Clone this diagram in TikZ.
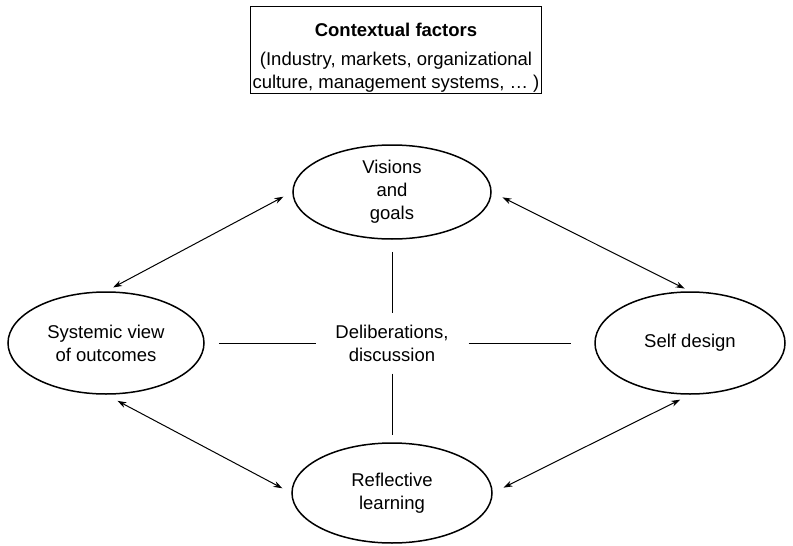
\documentclass[tikz,border=0pt]{standalone}
\usepackage{fontspec}
\setmainfont{Liberation Sans}
\usetikzlibrary{arrows.meta,positioning,shapes.geometric}

\begin{document}
\begin{tikzpicture}[x=1pt,y=-1pt,on grid,auto,line width=1pt,
    >={Stealth[length=9pt,width=6pt]},
    every node/.style={font=\fontsize{18.5}{23}\selectfont},
    idea/.style={ellipse,draw,line width=1.5pt,align=center,inner sep=0pt}]
   \useasboundingbox (0,0) rectangle (793,546);

   \node[align=center,minimum width=146pt,minimum height=60pt] (delib) at (392,343) {Deliberations,\\discussion};
   \node[idea,minimum width=198pt,minimum height=94pt] (vis) [above=151pt of delib] {Visions\\and\\goals};
   \node[idea,minimum width=196pt,minimum height=102pt] (sys) [left=286pt of delib] {Systemic view\\of outcomes};
   \node[idea,minimum width=190pt,minimum height=102pt] (self) [right=298pt of delib] {Self design};
   \node[idea,minimum width=200pt,minimum height=100pt] (refl) [below=150pt of delib] {Reflective\\learning};
   \node[draw,line width=1.2pt,align=center,inner xsep=2pt,inner ysep=1pt,
         font=\fontsize{18.5}{23.5}\selectfont] (ctx) at (396,50)
         {\rule{0pt}{29pt}\textbf{Contextual factors}\\[5pt](Industry, markets, organizational\\culture, management systems, \dots\ )};

   % spokes to the centre
   \path (vis) edge [shorten <=12pt] (delib);
   \path (delib) edge [shorten >=7pt] (refl);
   \path (sys) edge [shorten <=14pt,shorten >=3pt] (delib);
   \path (delib) edge [shorten <=3pt,shorten >=23pt] (self);

   % the cycle
   \path[<->] (sys.north) edge [shorten <=8pt,shorten >=10pt] (vis.west);
   \path[<->] (vis.east) edge [shorten <=12pt,shorten >=6pt] (self.north);
   \path[<->] (sys.south) edge [shorten <=13pt,shorten >=10pt] (refl.west);
   \path[<->] (self.south) edge [shorten <=11pt,shorten >=12pt] (refl.east);
\end{tikzpicture}
\end{document}
